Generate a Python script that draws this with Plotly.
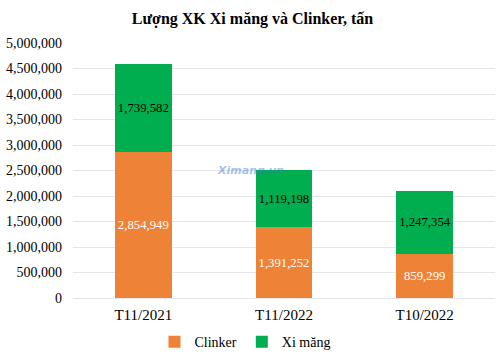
import plotly.graph_objects as go

categories = ["T11/2021", "T11/2022", "T10/2022"]
clinker = [2854949, 1391252, 859299]
ximang = [1739582, 1119198, 1247354]
tick_vals = [0, 500000, 1000000, 1500000, 2000000, 2500000, 3000000, 3500000, 4000000, 4500000, 5000000]

serif = "Liberation Serif, Times New Roman, serif"

fig = go.Figure()
fig.add_trace(go.Bar(
    x=categories, y=clinker, name="Clinker",
    marker=dict(color="#EE8237", line=dict(width=0)),
    text=[f"{v:,}" for v in clinker], textposition="inside", textangle=0,
    insidetextanchor="middle",
    textfont=dict(color="white", size=14, family=serif),
))
fig.add_trace(go.Bar(
    x=categories, y=ximang, name="Xi măng",
    marker=dict(color="#00AE4F", line=dict(width=0)),
    text=[f"{v:,}" for v in ximang], textposition="inside", textangle=0,
    insidetextanchor="middle",
    textfont=dict(color="black", size=14, family=serif),
))

fig.update_layout(
    width=500, height=359,
    barmode="stack", bargap=0.595,
    paper_bgcolor="white", plot_bgcolor="white",
    margin=dict(l=73, r=5, t=43, b=61),
    title=dict(text="<b>Lượng XK Xi măng và Clinker, tấn</b>", x=0.505, xanchor="center",
               y=0.95, yanchor="middle", yref="container",
               font=dict(family=serif, size=16, color="black")),
    font=dict(family=serif, size=14, color="black"),
    uniformtext=dict(mode="show", minsize=12),
    legend=dict(orientation="h", x=0.49, xanchor="center", xref="container",
                y=0.047, yanchor="middle", yref="container",
                font=dict(family=serif, size=14, color="black"),
                itemwidth=30, traceorder="normal"),
    xaxis=dict(showgrid=False, showline=False, ticks="", automargin=False,
               ticklabelstandoff=6,
               tickfont=dict(family=serif, size=15, color="black")),
    yaxis=dict(range=[0, 5000000], tickvals=tick_vals, tickformat=",d",
               showgrid=True, gridcolor="#E4E4EC", gridwidth=1,
               zeroline=True, zerolinecolor="#E4E4EC", zerolinewidth=1,
               showline=False, ticks="", automargin=False, ticklabelstandoff=10,
               tickfont=dict(family=serif, size=14, color="black")),
    annotations=[dict(text="<b><i>Ximang.vn</i></b>", x=0.42, y=0.50, xref="paper", yref="paper",
                      showarrow=False, opacity=0.45,
                      font=dict(family="DejaVu Sans", size=11, color="#3C78C8"))],
)

fig.write_html("out.html", config={"displayModeBar": False},
               post_script="document.body.style.margin='0';")
